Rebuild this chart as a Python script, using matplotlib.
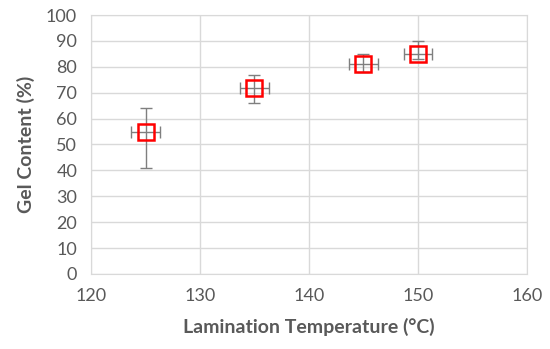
import numpy as np
import matplotlib
matplotlib.use('Agg')
import matplotlib.pyplot as plt

plt.rcParams['font.family'] = ['Lato', 'DejaVu Sans']

temperature = [125, 135, 145, 150]
gel = [55, 72, 81, 85]
err_up = [9, 5, 4, 5]
err_down = [14, 6, 3, 2]
xerr = [1.3, 1.3, 1.3, 1.3]

fig = plt.figure(figsize=(5.5, 3.49), dpi=100)
ax = fig.add_axes([0.1655, 0.215, 0.7925, 0.742])

ax.errorbar(temperature, gel, yerr=[err_down, err_up], xerr=xerr,
            fmt='none', ecolor='#7f7f7f', elinewidth=1, capsize=4, capthick=1, zorder=2)
ax.plot(temperature, gel, 's', markersize=12, markerfacecolor='none',
        markeredgecolor='#ff0000', markeredgewidth=1.8, zorder=3)

ax.set_xlim(120, 160)
ax.set_ylim(0, 100)
ax.set_xticks(np.arange(120, 161, 10))
ax.set_yticks(np.arange(0, 101, 10))
ax.grid(True, color='#d9d9d9', linewidth=1)
ax.set_axisbelow(True)
for s in ax.spines.values():
    s.set_color('#d9d9d9')
ax.tick_params(length=0, labelsize=13, labelcolor='#595959', pad=10)

ax.set_xlabel('Lamination Temperature (\u00b0C)', fontsize=14, fontweight='bold', color='#595959', labelpad=10)
ax.set_ylabel('Gel Content (%)', fontsize=14, fontweight='bold', color='#595959', labelpad=8)

fig.savefig('out.png', dpi=100)
